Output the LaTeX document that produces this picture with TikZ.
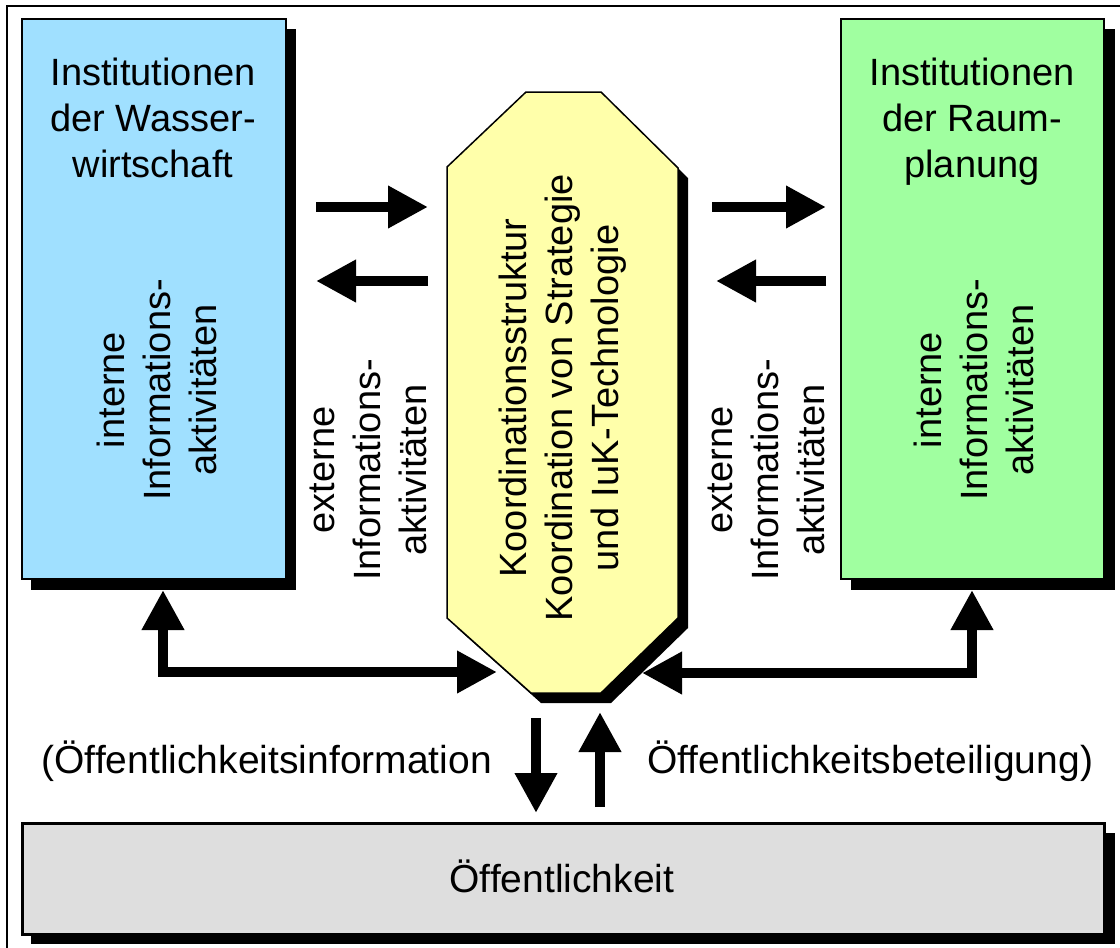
\documentclass[tikz,border=0pt]{standalone}
\usepackage{fontspec}
\setmainfont{Liberation Sans}
\usetikzlibrary{arrows.meta,calc}
\definecolor{wblue}{RGB}{160,224,255}
\definecolor{rgreen}{RGB}{160,255,160}
\definecolor{kyellow}{RGB}{255,255,170}
\definecolor{pgray}{RGB}{222,222,222}
\begin{document}
\begin{tikzpicture}[x=1pt,y=-1pt,
  txt/.style={font=\fontsize{38}{46}\selectfont, align=center, inner sep=0pt},
  lbl/.style={font=\fontsize{39}{46}\selectfont, inner sep=0pt},
  box/.style={draw=black, line width=1.5pt, inner sep=0pt, anchor=north west},
  fat/.style={line width=10pt, -{Triangle[length=40pt,width=40pt]}},
  fatboth/.style={line width=10pt, {Triangle[length=40pt,width=40pt]}-{Triangle[length=40pt,width=40pt]}}]
\clip (0,0) rectangle (1120,948);
\fill[white] (0,0) rectangle (1120,948);
% outer frame
\draw[line width=2pt] (7,6) rectangle (1140,970);
% shadows
\fill (31,29) rectangle (296,590);
\fill (851,29) rectangle (1115,590);
\fill (31,833) rectangle (1115,944);
\fill (457,177) -- (536,102) -- (611,102) -- (688,178) -- (688,628) -- (611,703) -- (541,703) -- (457,628) -- cycle;
% boxes
\node[box, fill=wblue, minimum width=264pt, minimum height=560pt] (wasser) at (21,18) {};
\node[box, fill=rgreen, minimum width=263pt, minimum height=560pt] (raum) at (840,18) {};
\node[box, fill=pgray, line width=2.5pt, minimum width=1082pt, minimum height=111pt] (oeff) at (21,822) {};
\draw[line width=1.5pt, fill=kyellow] (447,167) -- (526,92) -- (601,92) -- (678,168) -- (678,618) -- (601,693) -- (531,693) -- (447,618) -- cycle;
\node[txt, rotate=90] (koord) at (563,398) {Koordinationsstruktur\\Koordination von Strategie\\und IuK-Technologie};
% texts
\node[txt] (wtitle) at (153,118) {Institutionen\\der Wasser-\\wirtschaft};
\node[txt] (rtitle) at (972,122) {Institutionen\\der Raum-\\planung};
\node[txt, rotate=90] (wint) at (157,390) {interne\\Informations-\\aktivitäten};
\node[txt, rotate=90] (rint) at (974,390) {interne\\Informations-\\aktivitäten};
\node[txt, rotate=90] (lext) at (368,470) {externe\\Informations-\\aktivitäten};
\node[txt, rotate=90] (rext) at (766,470) {externe\\Informations-\\aktivitäten};
\node[lbl, anchor=base east] (oinf) at (492,773) {(Öffentlichkeitsinformation};
\node[lbl, anchor=base west] (obet) at (647,773) {Öffentlichkeitsbeteiligung)};
\node[lbl, anchor=base] (otext) at (562,892) {Öffentlichkeit};
% connection points
\coordinate (kL) at (497,672);
\coordinate (kR) at (642,673);
\coordinate (kB1) at (536,718);
\coordinate (oB1) at (536,813);
\coordinate (kB2) at (600,712);
\coordinate (oB2) at (600,807);
\coordinate (wB) at (163,590);
\coordinate (rB) at (972,590);
\coordinate (la1) at (316,207); \coordinate (la2) at (428,207);
\coordinate (lb1) at (428,281); \coordinate (lb2) at (316,281);
\coordinate (ra1) at (712,207); \coordinate (ra2) at (826,207);
\coordinate (rb1) at (826,281); \coordinate (rb2) at (716,281);
% arrows
\draw[fat] (la1) -- (la2);
\draw[fat] (lb1) -- (lb2);
\draw[fat] (ra1) -- (ra2);
\draw[fat] (rb1) -- (rb2);
\draw[fatboth] (wB) |- (kL);
\draw[fatboth] (rB) |- (kR);
\draw[fat] (kB1) -- (oB1);
\draw[fat] (oB2) -- (kB2);
\end{tikzpicture}
\end{document}
